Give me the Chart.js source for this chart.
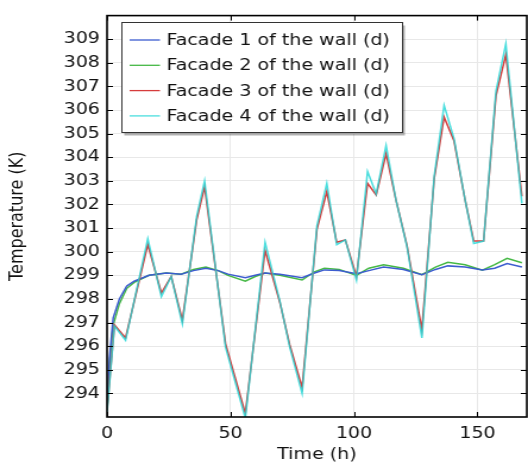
<!DOCTYPE html>
<html>
<head>
<meta charset="utf-8">
<script src="https://cdn.jsdelivr.net/npm/chart.js@4/dist/chart.umd.min.js"></script>
<style>
    html, body { margin: 0; padding: 0; background: #fff; }
    /* the reference is stretched sideways, so the canvas is drawn narrower and widened by css */
    #chart { width: 528px; height: 466px; }
</style>
</head>
<body>
<canvas id="chart" width="444" height="466" style="width:528px;height:466px"></canvas>
<script>
const xTicks = [0, 50, 100, 150];
const yTicks = [294, 295, 296, 297, 298, 299, 300, 301, 302, 303, 304, 305, 306, 307, 308, 309];

// time (h) for the slowly varying facades 1 and 2
const slowTime = [0, 1, 2.5, 5, 8, 11, 17, 24, 30, 35, 40, 45, 49, 56, 60, 64, 70, 79, 84, 88,
    94, 101, 106, 112, 120, 127.5, 133, 138, 145, 152, 157, 162, 168];
const facade1 = [293.3, 295.5, 297.2, 298.0, 298.55, 298.75, 299.0, 299.1, 299.05, 299.2,
    299.3, 299.2, 299.05, 298.9, 299.0, 299.1, 299.05, 298.9, 299.1, 299.23,
    299.2, 299.07, 299.2, 299.35, 299.25, 299.03, 299.25, 299.4, 299.35, 299.23,
    299.3, 299.5, 299.35];
const facade2 = [293.3, 295.2, 296.9, 297.8, 298.45, 298.7, 299.0, 299.1, 299.05, 299.25,
    299.35, 299.2, 299.0, 298.75, 298.95, 299.1, 299.0, 298.8, 299.15, 299.3,
    299.25, 299.0, 299.3, 299.45, 299.3, 299.03, 299.35, 299.55, 299.45, 299.22,
    299.45, 299.72, 299.53];

// time (h) for the strongly oscillating facades 3 and 4
const fastTime = [0, 3, 7.5, 16.5, 22, 26, 30.5, 36.3, 39.5, 48, 56, 64, 70, 74, 79, 85, 89, 93, 96.5, 101,
    105.5, 109, 113, 117, 121.5, 127.5, 132.5, 136.5, 140.5, 145, 148.5, 152.5, 157.5, 161.5, 168];
const facade3 = [293.3, 296.9, 296.35, 300.3, 298.25, 298.95, 297.1, 301.35, 302.75, 296.1,
    293.15, 300.05, 297.85, 296.05, 294.25, 300.95, 302.55, 300.4, 300.5, 298.95,
    302.9, 302.4, 304.15, 302.2, 300.25, 296.7, 303.1, 305.7, 304.7, 302.2,
    300.45, 300.45, 306.6, 308.35, 302.35];
const facade4 = [293.2, 296.85, 296.25, 300.55, 298.1, 298.95, 296.95, 301.5, 303.0, 295.95,
    292.95, 300.4, 297.9, 295.95, 294.0, 301.1, 302.9, 300.3, 300.5, 298.8,
    303.4, 302.45, 304.5, 302.2, 300.2, 296.35, 303.2, 306.2, 304.8, 302.2,
    300.35, 300.45, 306.8, 308.8, 302.05];

const labels = ["Facade 1 of the wall (d)", "Facade 2 of the wall (d)", "Facade 3 of the wall (d)", "Facade 4 of the wall (d)"];

const FONT = '"DejaVu Sans", sans-serif';
const TEXT = "#111";

function pairs(times, values) {
    return times.map((t, i) => ({x: t, y: values[i]}));
}

function series(label, times, values, color, order) {
    return {
        label: label,
        data: pairs(times, values),
        borderColor: color,
        backgroundColor: "transparent",
        borderWidth: 1.5,
        pointRadius: 0,
        tension: 0,
        order: order,
    };
}

// box round the plot with short inward ticks on every side
const frame = {
    id: "frame",
    afterDatasetsDraw(chart) {
        const {ctx, chartArea: a, scales} = chart;
        ctx.save();
        ctx.strokeStyle = "#000";
        ctx.lineWidth = 1;
        ctx.beginPath();
        scales.x.ticks.forEach((t) => {
            const px = Math.round(scales.x.getPixelForValue(t.value)) + 0.5;
            ctx.moveTo(px, a.bottom); ctx.lineTo(px, a.bottom - 5);
            ctx.moveTo(px, a.top); ctx.lineTo(px, a.top + 5);
        });
        scales.y.ticks.forEach((t) => {
            const py = Math.round(scales.y.getPixelForValue(t.value)) + 0.5;
            ctx.moveTo(a.left, py); ctx.lineTo(a.left + 5, py);
            ctx.moveTo(a.right, py); ctx.lineTo(a.right - 5, py);
        });
        ctx.stroke();
        ctx.lineWidth = 1.6;
        ctx.strokeRect(a.left, a.top, a.right - a.left, a.bottom - a.top);
        ctx.restore();
    },
};

// legend box in the upper left of the plot, with a drop shadow
const boxLegend = {
    id: "boxLegend",
    afterDraw(chart) {
        const ctx = chart.ctx;
        const x = 102.5, y = 22.5, w = 236, h = 110;
        ctx.save();
        ctx.fillStyle = "rgba(0,0,0,0.3)";
        ctx.fillRect(x + 2, y + 3, w, h);
        ctx.fillStyle = "#fff";
        ctx.fillRect(x, y, w, h);
        ctx.strokeStyle = "#333";
        ctx.lineWidth = 1;
        ctx.strokeRect(x, y, w, h);
        ctx.font = "16px " + FONT;
        ctx.textBaseline = "middle";
        chart.data.datasets.forEach((ds, i) => {
            const cy = y + 17.5 + i * 25.3;
            ctx.strokeStyle = ds.borderColor;
            ctx.lineWidth = 1.3;
            ctx.beginPath();
            ctx.moveTo(x + 6.5, cy);
            ctx.lineTo(x + 32, cy);
            ctx.stroke();
            ctx.fillStyle = TEXT;
            ctx.fillText(ds.label, x + 37.5, cy + 1);
        });
        ctx.restore();
    },
};

new Chart(document.getElementById("chart"), {
    type: "line",
    data: {
        datasets: [
            series(labels[0], slowTime, facade1, "#3c5ccf", 2),
            series(labels[1], slowTime, facade2, "#45b845", 3),
            series(labels[2], fastTime, facade3, "#d63c3c", 1),
            series(labels[3], fastTime, facade4, "rgba(30,214,214,0.8)", 0),
        ],
    },
    options: {
        responsive: false,
        animation: false,
        layout: {padding: {top: 10, right: 1, left: 0, bottom: 0}},
        plugins: {
            legend: {display: false},
            tooltip: {enabled: false},
        },
        scales: {
            x: {
                type: "linear",
                min: 0,
                max: 170,
                afterBuildTicks: (s) => { s.ticks = xTicks.map((v) => ({value: v})); },
                afterFit: (s) => { s.height = 49; },
                grid: {color: "#e8e8e8", drawTicks: false},
                border: {display: false},
                ticks: {padding: 7, color: TEXT, font: {family: FONT, size: 16}, maxRotation: 0},
                title: {
                    display: true,
                    text: "Time (h)",
                    color: TEXT,
                    font: {family: FONT, size: 16},
                    padding: {top: 0, bottom: 2},
                },
            },
            y: {
                min: 293,
                max: 310,
                afterBuildTicks: (s) => { s.ticks = yTicks.map((v) => ({value: v})); },
                afterFit: (s) => { s.width = 90; },
                grid: {color: "#e8e8e8", drawTicks: false},
                border: {display: false},
                ticks: {padding: 6, color: TEXT, font: {family: FONT, size: 16}},
                title: {
                    display: true,
                    text: "Temperature (K)",
                    color: TEXT,
                    font: {family: FONT, size: 16},
                    padding: {top: 5, bottom: 0},
                },
            },
        },
    },
    plugins: [frame, boxLegend],
});
</script>
</body>
</html>
